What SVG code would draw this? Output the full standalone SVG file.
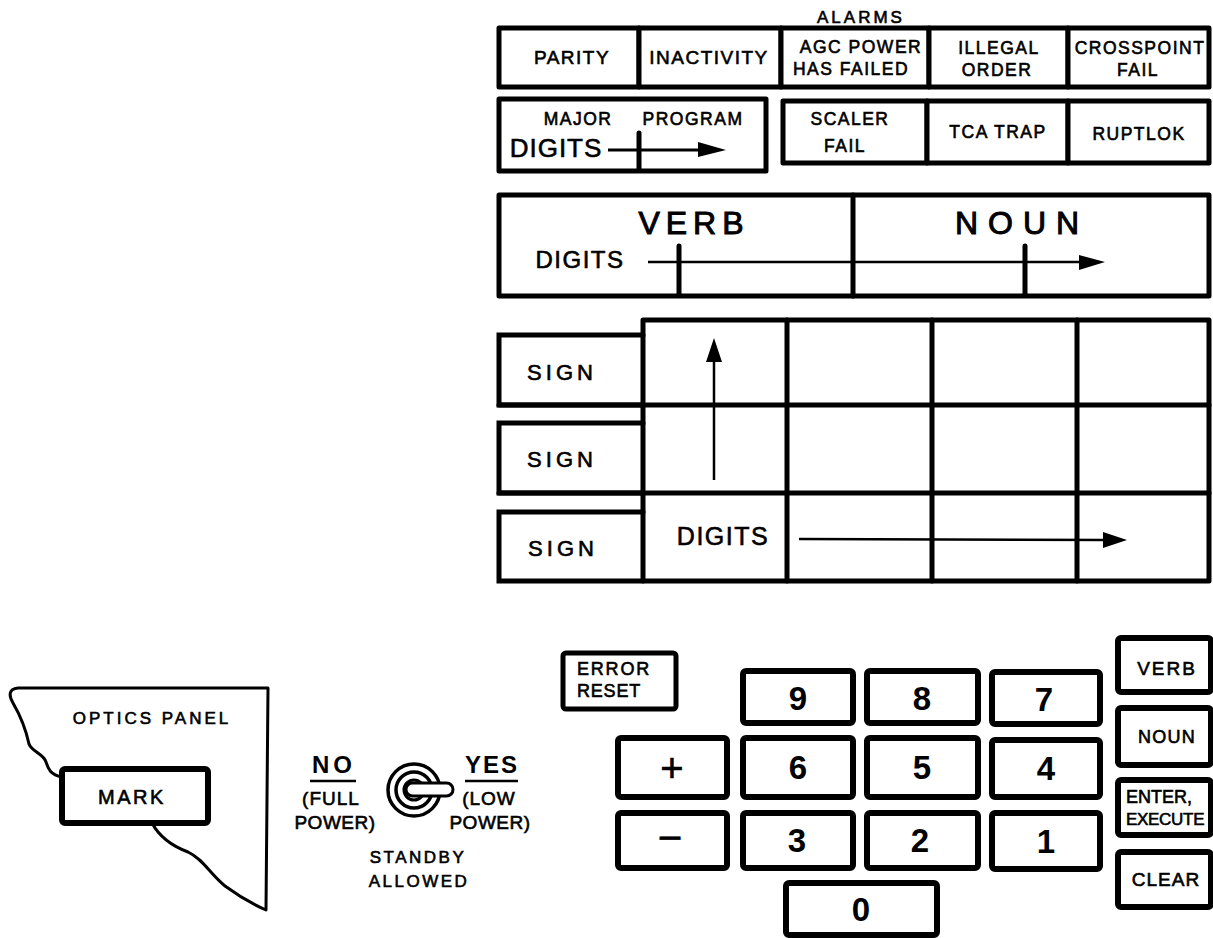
<svg xmlns="http://www.w3.org/2000/svg" width="1213" height="938" viewBox="0 0 1213 938">
<style>
.bx{fill:#fff;stroke:#000;stroke-width:5;stroke-linejoin:round}
.key{fill:#fff;stroke:#000;stroke-width:6;stroke-linejoin:round}
.ln{fill:none;stroke:#000;stroke-width:5;stroke-linecap:round}
.t{font-family:"Liberation Sans",Arial,sans-serif;fill:#000;stroke:#000;stroke-width:0.6;text-anchor:middle}
.s17{font-size:17.5px;letter-spacing:1.5px}
.s18{font-size:19px;letter-spacing:1.5px}
.dg{font-size:33px;font-weight:bold;stroke-width:0}
</style>
<rect width="1213" height="938" fill="#fff"/>

<!-- Alarms -->
<g id="alarms">
<text class="t" x="861" y="23" font-size="17" letter-spacing="3">ALARMS</text>
<g id="parity"><rect class="bx" x="499" y="28" width="140" height="59"/><text class="t s18" x="572" y="64">PARITY</text></g>
<g id="inactivity"><rect class="bx" x="639" y="28" width="142" height="59"/><text class="t s18" x="709" y="64" letter-spacing="1">INACTIVITY</text></g>
<g id="agcpower"><rect class="bx" x="781" y="28" width="148" height="59"/><text class="t s17" x="861" y="53" letter-spacing="0.5">AGC POWER</text><text class="t s17" x="851" y="75" letter-spacing="0.3">HAS FAILED</text></g>
<g id="illegal"><rect class="bx" x="929" y="28" width="139" height="59"/><text class="t s17" x="999" y="54" letter-spacing="2">ILLEGAL</text><text class="t s17" x="997" y="76">ORDER</text></g>
<g id="crosspoint"><rect class="bx" x="1068" y="28" width="141" height="59"/><text class="t s17" x="1140" y="54" letter-spacing="0.3">CROSSPOINT</text><text class="t s17" x="1138" y="76">FAIL</text></g>
</g>

<!-- Major program -->
<g id="majorprogram">
<rect class="bx" x="499" y="99" width="267" height="72"/>
<text class="t s17" x="578" y="125" letter-spacing="2">MAJOR</text>
<text class="t s17" x="693" y="125" letter-spacing="1">PROGRAM</text>
<text class="t" x="556" y="157" font-size="26" letter-spacing="1">DIGITS</text>
</g>
<g id="scaler"><rect class="bx" x="783" y="101" width="144" height="62"/><text class="t s17" x="850" y="125" letter-spacing="2">SCALER</text><text class="t s17" x="845" y="152" letter-spacing="2">FAIL</text></g>
<g id="tcatrap"><rect class="bx" x="927" y="101" width="141" height="62"/><text class="t s17" x="998" y="138">TCA TRAP</text></g>
<g id="ruptlok"><rect class="bx" x="1068" y="101" width="141" height="62"/><text class="t s17" x="1139" y="140">RUPTLOK</text></g>

<!-- Verb / Noun display -->
<g id="verbnoun">
<rect class="bx" x="499" y="195" width="710" height="101"/>
<line class="ln" x1="853" y1="195" x2="853" y2="296"/>
<text class="t" x="694" y="234" font-size="32" letter-spacing="6" style="stroke-width:1">VERB</text>
<text class="t" x="1022" y="234" font-size="32" letter-spacing="10" style="stroke-width:1">NOUN</text>
<text class="t" x="580" y="268" font-size="24" letter-spacing="1.5">DIGITS</text>
</g>

<!-- Register grid -->
<g id="grid">
<rect class="bx" x="643" y="320" width="566" height="261"/>
<line class="ln" x1="787" y1="320" x2="787" y2="581"/>
<line class="ln" x1="932" y1="320" x2="932" y2="581"/>
<line class="ln" x1="1077" y1="320" x2="1077" y2="581"/>
<line class="ln" x1="499" y1="405" x2="1209" y2="405"/>
<line class="ln" x1="499" y1="493" x2="1209" y2="493"/>
<text class="t" x="723" y="545" font-size="25" letter-spacing="1.5">DIGITS</text>
</g>
<g id="sign1"><path class="ln" d="M643,335 L499,335 L499,405 L643,405"/><text class="t" x="562" y="380" font-size="22" letter-spacing="4">SIGN</text></g>
<g id="sign2"><path class="ln" d="M643,423 L499,423 L499,493 L643,493"/><text class="t" x="562" y="467" font-size="22" letter-spacing="4">SIGN</text></g>
<g id="sign3"><path class="ln" d="M643,512 L499,512 L499,581 L643,581"/><text class="t" x="563" y="556" font-size="22" letter-spacing="4">SIGN</text></g>

<!-- Connectors / arrows -->
<g id="connectors">
<line x1="608" y1="150" x2="701" y2="150" stroke="#000" stroke-width="3"/>
<path d="M698,142 L726,150 L698,157 Z" fill="#000"/>
<line class="ln" x1="639" y1="133" x2="639" y2="170"/>
<line x1="648" y1="262" x2="1082" y2="262" stroke="#000" stroke-width="2.5"/>
<path d="M1079,255 L1105,262 L1079,270 Z" fill="#000"/>
<line class="ln" x1="679" y1="246" x2="679" y2="295"/>
<line class="ln" x1="1025" y1="246" x2="1025" y2="295"/>
<line x1="714" y1="480" x2="714" y2="360" stroke="#000" stroke-width="2.5"/>
<path d="M706,362 L714,338 L722,362 Z" fill="#000"/>
<line x1="799" y1="539" x2="1106" y2="540" stroke="#000" stroke-width="2.5"/>
<path d="M1103,532 L1127,540 L1103,548 Z" fill="#000"/>
</g>

<!-- Optics panel -->
<g id="opticspanel">
<path d="M152,823 C160,838 172,846 188,852 C203,859 210,874 225,886 C240,897 250,903 266,910 L268,688 L18,688 C8,689 9,696 13,703 C20,715 26,730 29,744 C32,752 44,754 46,762 C48,768 50,775 62,777" fill="#fff" stroke="#000" stroke-width="3" stroke-linejoin="round"/>
<text class="t" x="152" y="724" font-size="17" letter-spacing="3">OPTICS PANEL</text>
<g id="mark"><rect class="key" x="62" y="769" width="146" height="54" rx="3"/><text class="t" x="132" y="804" font-size="20" letter-spacing="2.5">MARK</text></g>
</g>

<!-- Standby switch -->
<g id="standby">
<text class="t" x="334" y="773" font-size="24" font-weight="bold" letter-spacing="4" style="stroke-width:0">NO</text>
<line x1="310" y1="781" x2="356" y2="781" stroke="#000" stroke-width="2.5"/>
<text class="t" x="331" y="805" font-size="19" letter-spacing="1">(FULL</text>
<text class="t" x="335" y="829" font-size="19" letter-spacing="0.5">POWER)</text>
<circle cx="414" cy="790" r="26" fill="none" stroke="#000" stroke-width="3.5"/>
<circle cx="414" cy="790" r="18" fill="none" stroke="#000" stroke-width="3.5"/>
<circle cx="414" cy="790" r="10" fill="none" stroke="#000" stroke-width="3"/>
<rect x="406" y="783" width="47" height="13" rx="6.5" fill="#fff" stroke="#000" stroke-width="3"/>
<text class="t" x="492" y="773" font-size="24" font-weight="bold" letter-spacing="2" style="stroke-width:0">YES</text>
<line x1="465" y1="781" x2="518" y2="781" stroke="#000" stroke-width="2.5"/>
<text class="t" x="489" y="805" font-size="19" letter-spacing="1">(LOW</text>
<text class="t" x="490" y="829" font-size="19" letter-spacing="0.5">POWER)</text>
<text class="t" x="418" y="863" font-size="17" letter-spacing="2.5">STANDBY</text>
<text class="t" x="419" y="887" font-size="17" letter-spacing="2.5">ALLOWED</text>
</g>

<!-- Keypad -->
<g id="errorreset"><rect class="key" x="563" y="653" width="113" height="56" rx="3" style="stroke-width:5"/><text class="t" x="577" y="675" font-size="18" letter-spacing="1.8" style="text-anchor:start">ERROR</text><text class="t" x="577" y="697" font-size="18" letter-spacing="0.8" style="text-anchor:start">RESET</text></g>
<g id="k9"><rect class="key" x="743" y="671" width="110" height="52" rx="3"/><text class="t dg" x="798" y="710">9</text></g>
<g id="k8"><rect class="key" x="867" y="671" width="111" height="52" rx="3"/><text class="t dg" x="922" y="710">8</text></g>
<g id="k7"><rect class="key" x="992" y="672" width="108" height="52" rx="3"/><text class="t dg" x="1044" y="711">7</text></g>
<g id="kplus"><rect class="key" x="618" y="738" width="109" height="59" rx="3"/><text class="t" x="672" y="782" font-size="40">+</text></g>
<g id="k6"><rect class="key" x="743" y="738" width="110" height="59" rx="3"/><text class="t dg" x="798" y="779">6</text></g>
<g id="k5"><rect class="key" x="867" y="738" width="111" height="59" rx="3"/><text class="t dg" x="922" y="779">5</text></g>
<g id="k4"><rect class="key" x="992" y="740" width="108" height="57" rx="3"/><text class="t dg" x="1046" y="780">4</text></g>
<g id="kminus"><rect class="key" x="618" y="813" width="109" height="55" rx="3"/><text class="t" x="670" y="852" font-size="42">−</text></g>
<g id="k3"><rect class="key" x="743" y="813" width="110" height="55" rx="3"/><text class="t dg" x="797" y="852">3</text></g>
<g id="k2"><rect class="key" x="867" y="813" width="111" height="55" rx="3"/><text class="t dg" x="920" y="852">2</text></g>
<g id="k1"><rect class="key" x="992" y="813" width="108" height="56" rx="3"/><text class="t dg" x="1046" y="853">1</text></g>
<g id="k0"><rect class="key" x="786" y="883" width="151" height="52" rx="3"/><text class="t dg" x="861" y="921">0</text></g>
<g id="kverb"><rect class="key" x="1118" y="638" width="93" height="54" rx="3"/><text class="t" x="1167" y="675" font-size="19" letter-spacing="2">VERB</text></g>
<g id="knoun"><rect class="key" x="1118" y="708" width="93" height="57" rx="3"/><text class="t" x="1167" y="743" font-size="18" letter-spacing="1.2">NOUN</text></g>
<g id="kenter"><rect class="key" x="1118" y="780" width="93" height="55" rx="3"/><text class="t" x="1126" y="803" font-size="18" style="text-anchor:start">ENTER,</text><text class="t" x="1126" y="825" font-size="17" letter-spacing="-0.3" style="text-anchor:start">EXECUTE</text></g>
<g id="kclear"><rect class="key" x="1118" y="852" width="93" height="55" rx="3"/><text class="t" x="1166" y="886" font-size="19" letter-spacing="1">CLEAR</text></g>
</svg>
